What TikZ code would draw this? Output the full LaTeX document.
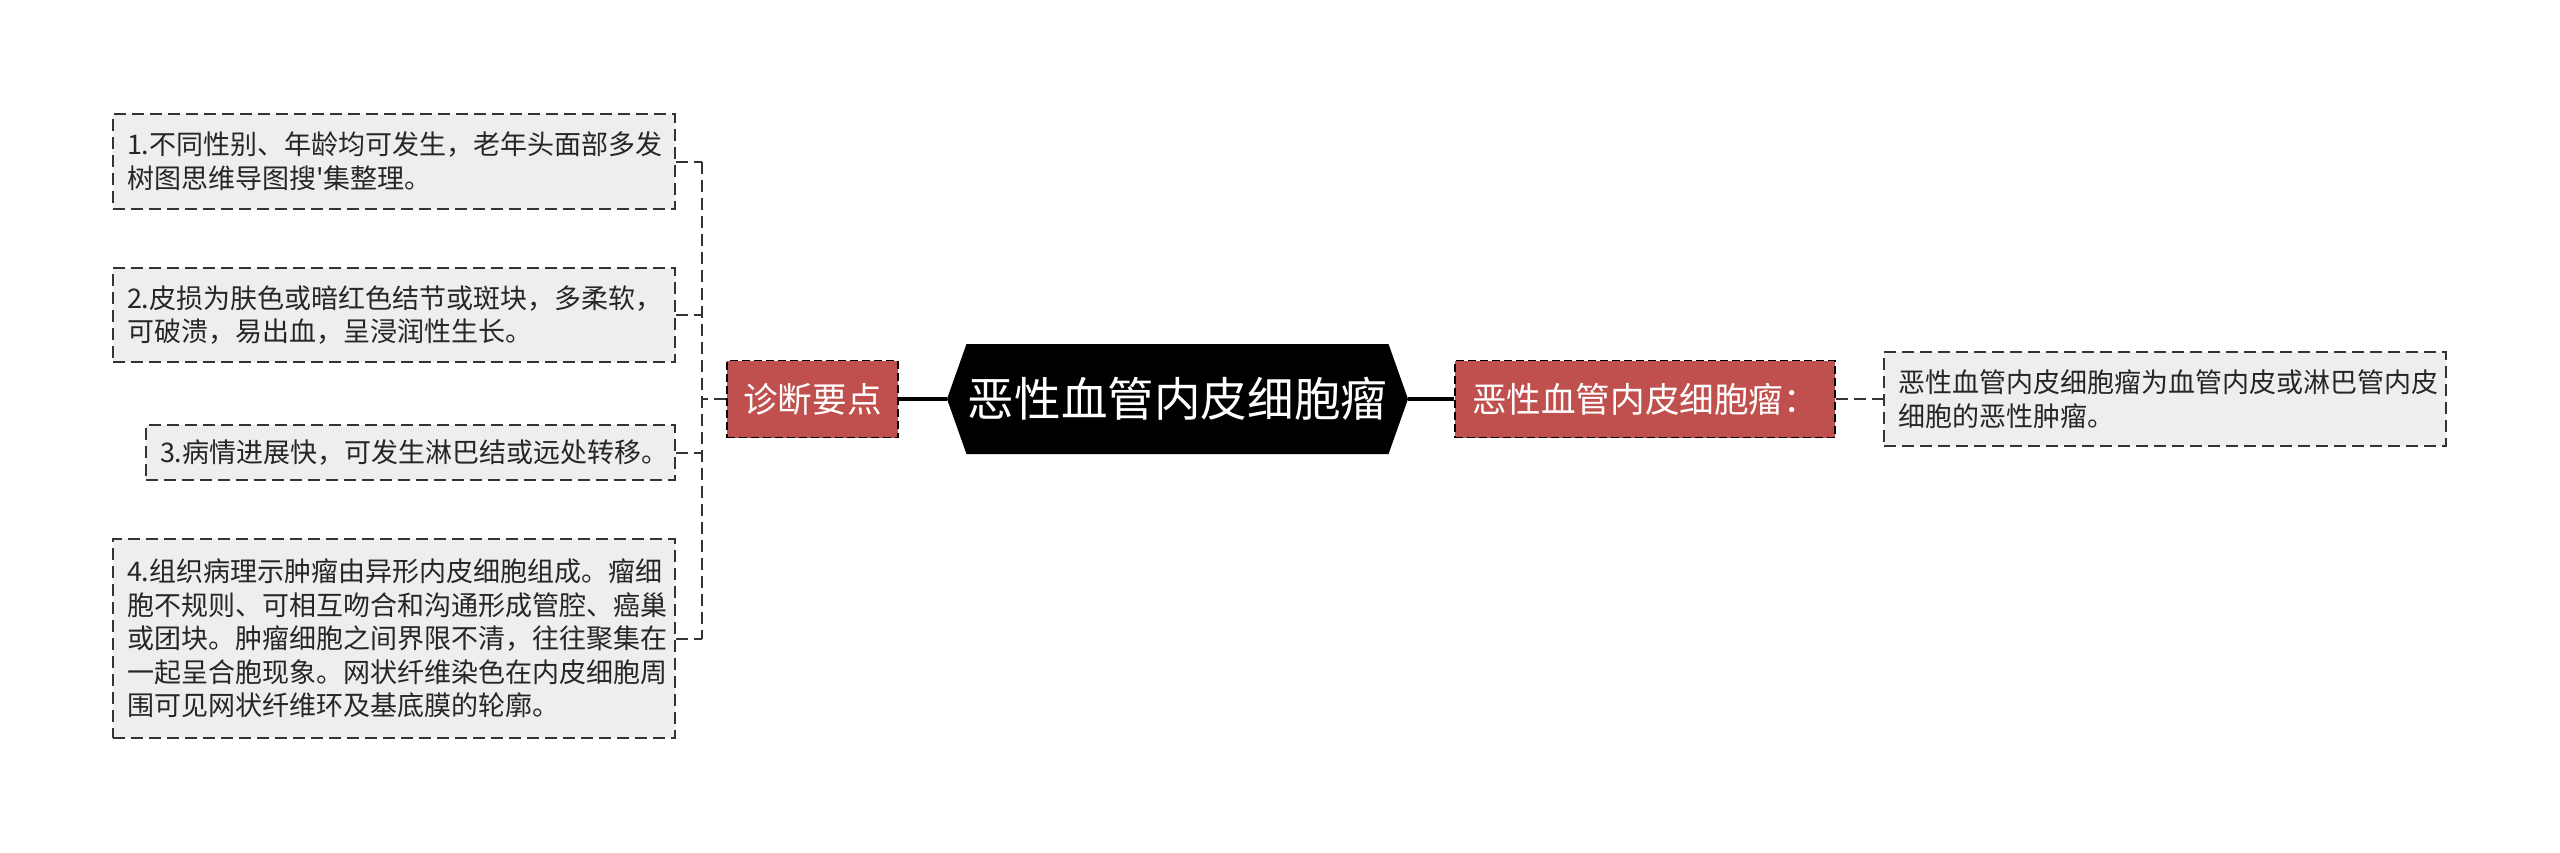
\documentclass[tikz,border=0pt]{standalone}
\usepackage{fontspec}
\newfontfamily\cjk{Noto Sans CJK SC}
\usetikzlibrary{shapes.symbols}
\definecolor{tagred}{HTML}{C0504D}
\definecolor{leafgray}{HTML}{EEEEEE}
\definecolor{edgegray}{HTML}{333333}

\begin{document}
\begin{tikzpicture}[x=0.5pt,y=-0.5pt,
  leafbox/.style={draw=edgegray,line width=1pt,dash pattern=on 6pt off 3pt,fill=leafgray,
    font=\cjk\fontsize{13.5}{16.8}\selectfont,text=black!85,align=left,inner xsep=7pt,inner ysep=0pt},
  tagbox/.style={draw=black,line width=0.8pt,dash pattern=on 4pt off 2pt,fill=tagred,text=white,
    font=\cjk\fontsize{17.3}{20}\selectfont,minimum height=38.5pt,inner sep=0pt},
  rootnode/.style={signal,signal to=west and east,signal pointer angle=141,fill=black,text=white,
    font=\cjk\fontsize{23.3}{27}\selectfont,minimum width=230.5pt,minimum height=55pt,inner sep=0pt},
  link/.style={line width=1.6pt},
  dashlink/.style={draw=edgegray,line width=1pt,dash pattern=on 6pt off 3pt}]
\useasboundingbox (0,0) rectangle (2560,852);

%Center
\node[rootnode] (root) at (1177.5,399) {恶性血管内皮细胞瘤};

%Left branch
\node[tagbox,minimum width=85.5pt] (diag) at (812.5,399) {诊断要点};
\node[leafbox,anchor=east,text width=267pt,minimum height=47.5pt] (point1) at (676,161.5)
  {1.不同性别、年龄均可发生，老年头面部多发\\树图思维导图搜'集整理。};
\node[leafbox,anchor=east,text width=267pt,minimum height=47pt] (point2) at (676,315)
  {2.皮损为肤色或暗红色结节或斑块，多柔软，\\可破溃，易出血，呈浸润性生长。};
\node[leafbox,anchor=east,text width=250.5pt,minimum height=27.5pt] (point3) at (676,452.5)
  {3.病情进展快，可发生淋巴结或远处转移。};
\node[leafbox,anchor=east,text width=267pt,minimum height=99.5pt] (point4) at (676,638.5)
  {4.组织病理示肿瘤由异形内皮细胞组成。瘤细\\胞不规则、可相互吻合和沟通形成管腔、癌巢\\或团块。肿瘤细胞之间界限不清，往往聚集在\\一起呈合胞现象。网状纤维染色在内皮细胞周\\围可见网状纤维环及基底膜的轮廓。};

%Right branch
\node[tagbox,minimum width=190pt] (defn) at (1645,399) {恶性血管内皮细胞瘤：};
\node[leafbox,anchor=west,text width=267pt,minimum height=47pt] (detail) at (1883,399)
  {恶性血管内皮细胞瘤为血管内皮或淋巴管内皮\\细胞的恶性肿瘤。};

%Links
\coordinate (trunk) at (702,399);
\draw[link] (root.west) -- (diag.east);
\draw[link] (root.east) -- (defn.west);
\draw[dashlink] (defn.east) -- (detail.west);
\draw[dashlink] (diag.west) -- (trunk);
\draw[dashlink] (point1.east -| trunk) -- (point4.east -| trunk);
\foreach \p in {point1,point2,point3,point4}
  \draw[dashlink] (\p.east) -- (\p.east -| trunk);
\end{tikzpicture}
\end{document}
